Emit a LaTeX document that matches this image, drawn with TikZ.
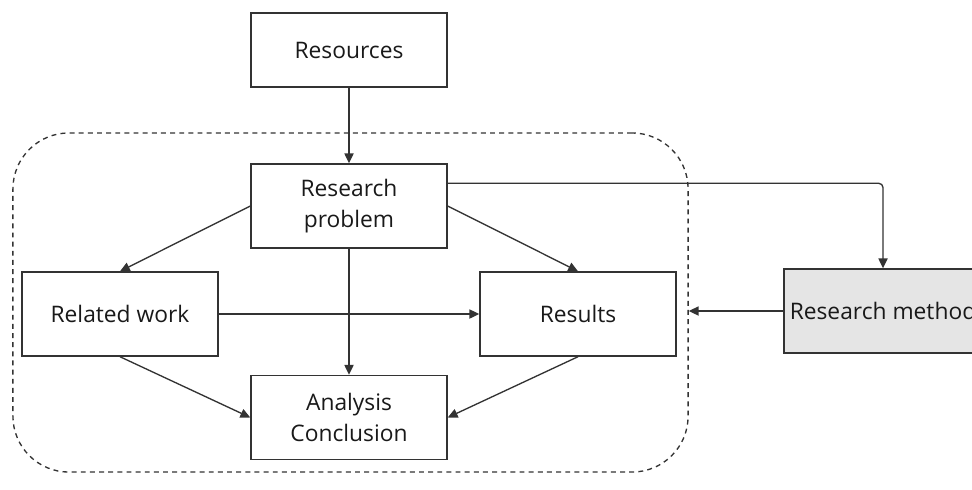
\documentclass[tikz,border=0pt]{standalone}
\usepackage{fontspec}
\setmainfont{Open Sans}
\usetikzlibrary{arrows.meta}
\begin{document}
\begin{tikzpicture}[x=0.025cm, y=-0.025cm,
    every node/.style={font=\fontsize{16.2}{22}\selectfont, text=black!90},
    box/.style={draw=black!80, line width=1pt, minimum width=4.9cm, minimum height=2.1cm, align=center, inner sep=0pt},
    conn/.style={draw=black!80, line width=0.95pt, -{Triangle[length=7pt, width=6.5pt]}}]
    % Rahmen des Bildes
    \useasboundingbox (0,0) rectangle (972,489);
    \clip (0,0) rectangle (972,489);
    % Gruppe (gestrichelt)
    \node[draw=black!80, line width=0.95pt, dash pattern=on 3.5pt off 3pt, rounded corners=1.4cm,
          minimum width=16.875cm, minimum height=8.475cm] (grp) at (350.5, 302.5) {};
    % Kaestchen
    \node[box, minimum height=1.85cm] (res) at (349, 50) {Resources};
    \node[box] (prob) at (349, 206) {Research\\problem};
    \node[box] (rel) at (120, 314) {Related work};
    \node[box] (out) at (578, 314) {Results};
    \node[box] (ana) at (349, 417.5) {Analysis\\Conclusion};
    \node[box, fill=black!10, minimum width=4.95cm] (meth) at (883, 311) {Research method};
    % Pfeile
    \draw[conn] (res) -- (prob);
    \draw[conn, rounded corners=3pt] ([yshift=-0.5cm]prob.north east) -| (meth.north);
    \draw[conn] (prob.west) -- (rel.north);
    \draw[conn] (prob.east) -- (out.north);
    \draw[conn] (prob) -- (ana);
    \draw[conn] (rel) -- (out);
    \draw[conn] (rel.south) -- (ana.west);
    \draw[conn] (out.south) -- (ana.east);
    \draw[conn] (meth.west) -- (meth.west -| grp.east);
\end{tikzpicture}
\end{document}
